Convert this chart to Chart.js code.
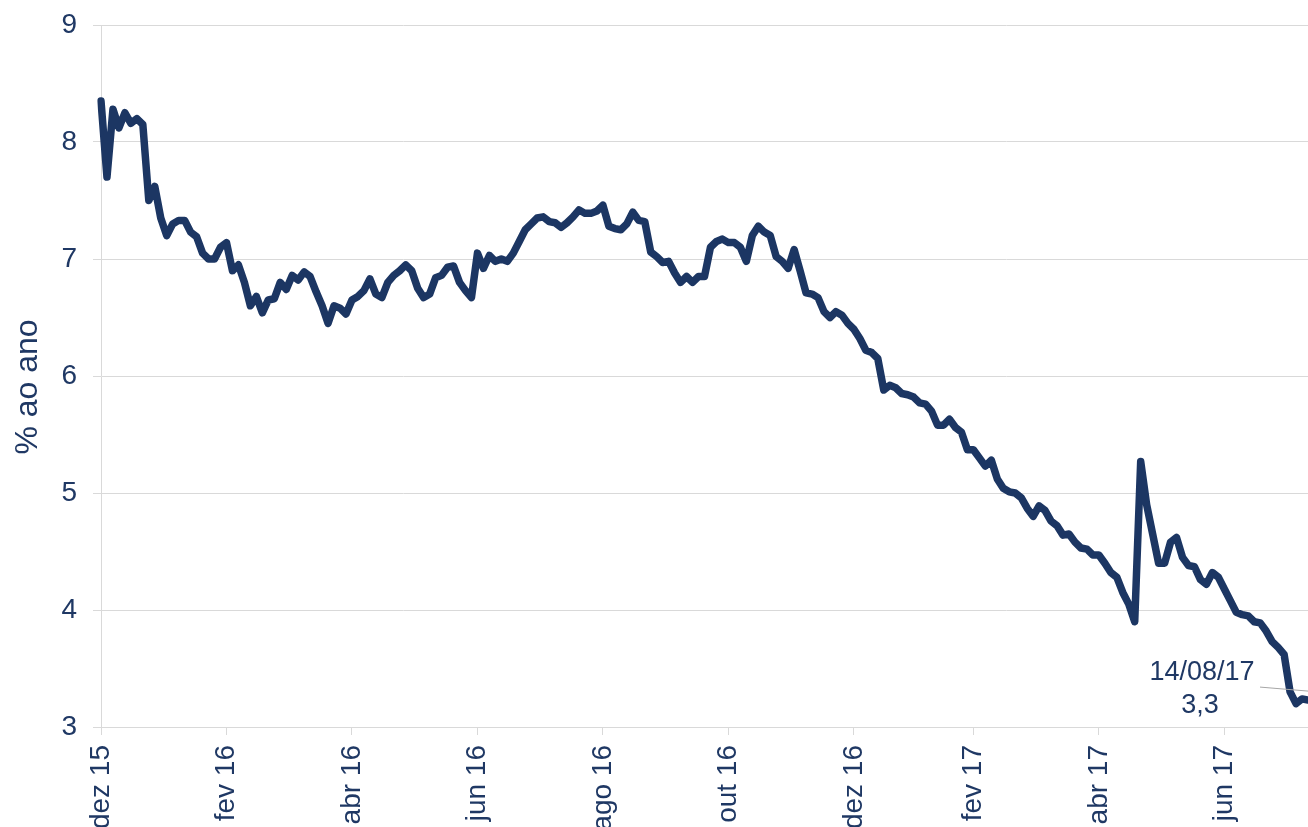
<!DOCTYPE html>
<html lang="pt">
<head>
    <meta charset="UTF-8">
    <title>% ao ano</title>
    <script src="https://cdn.jsdelivr.net/npm/chart.js"></script>
    <style>
        body { margin: 0; background: white; }
        #wrap { width: 1308px; height: 827px; position: relative; }
    </style>
</head>
<body>
<div id="wrap"><canvas id="taxaChart"></canvas></div>
<script>
    // month labels on the x axis and the category index where each one sits
    var monthLabels = ['dez 15', 'fev 16', 'abr 16', 'jun 16', 'ago 16', 'out 16', 'dez 16', 'fev 17', 'abr 17', 'jun 17'];
    var monthIdx = [0, 21, 42, 63, 84, 105, 126, 146, 167, 188];

    // taxa (% ao ano), dez/15 -> 14/08/17
    var taxa = [
        8.35, 7.70, 8.28, 8.12, 8.25, 8.16, 8.20, 8.15, 7.50, 7.62,
        7.35, 7.20, 7.30, 7.33, 7.33, 7.23, 7.19, 7.05, 7.00, 7.00,
        7.10, 7.14, 6.90, 6.95, 6.80, 6.60, 6.68, 6.54, 6.65, 6.66,
        6.80, 6.74, 6.86, 6.82, 6.89, 6.85, 6.72, 6.60, 6.45, 6.60,
        6.58, 6.53, 6.65, 6.68, 6.73, 6.83, 6.70, 6.67, 6.80, 6.86,
        6.90, 6.95, 6.90, 6.75, 6.67, 6.70, 6.84, 6.86, 6.93, 6.94,
        6.80, 6.73, 6.67, 7.05, 6.92, 7.03, 6.98, 7.00, 6.98, 7.05,
        7.15, 7.25, 7.30, 7.35, 7.36, 7.32, 7.31, 7.27, 7.31, 7.36,
        7.42, 7.39, 7.39, 7.41, 7.46, 7.28, 7.26, 7.25, 7.30, 7.40,
        7.33, 7.32, 7.06, 7.02, 6.97, 6.98, 6.88, 6.80, 6.85, 6.80,
        6.85, 6.85, 7.10, 7.15, 7.17, 7.14, 7.14, 7.10, 6.98, 7.20,
        7.28, 7.23, 7.20, 7.02, 6.98, 6.92, 7.08, 6.90, 6.71, 6.70,
        6.67, 6.55, 6.50, 6.55, 6.52, 6.45, 6.40, 6.32, 6.22, 6.20,
        6.15, 5.88, 5.92, 5.90, 5.85, 5.84, 5.82, 5.77, 5.76, 5.70,
        5.58, 5.58, 5.63, 5.56, 5.52, 5.37, 5.37, 5.30, 5.23, 5.28,
        5.12, 5.04, 5.01, 5.00, 4.96, 4.87, 4.80, 4.89, 4.85, 4.76,
        4.72, 4.64, 4.65, 4.58, 4.53, 4.52, 4.47, 4.47, 4.40, 4.32,
        4.28, 4.15, 4.05, 3.90, 5.27, 4.90, 4.65, 4.40, 4.40, 4.58,
        4.62, 4.45, 4.38, 4.37, 4.26, 4.22, 4.32, 4.28, 4.18, 4.08,
        3.98, 3.96, 3.95, 3.90, 3.89, 3.82, 3.73, 3.68, 3.62, 3.30,
        3.20, 3.24, 3.23
    ];

    var lastDate = '14/08/17';
    var lastValue = '3,3';
    var yTitle = '% ao ano';

    var navy = '#1c3663';
    var textColor = '#1f3864';
    var gridColor = '#d9d9d9';
    var fontFamily = '"Liberation Sans", Arial, sans-serif';

    var labels = taxa.map(function (v, i) {
        var j = monthIdx.indexOf(i);
        return j >= 0 ? monthLabels[j] : '';
    });

    // y title + label for the last observation
    var extraText = {
        id: 'extraText',
        afterDatasetsDraw: function (chart) {
            var ctx = chart.ctx;
            var area = chart.chartArea;
            var xs = chart.scales.x, ys = chart.scales.y;
            var n = taxa.length - 1;
            var px = xs.getPixelForValue(n);
            var py = ys.getPixelForValue(taxa[n]);
            ctx.save();
            ctx.strokeStyle = '#a6a6a6';
            ctx.lineWidth = 1;
            ctx.beginPath();
            ctx.moveTo(px - 48, py - 13);
            ctx.lineTo(px, py - 9);
            ctx.stroke();
            ctx.fillStyle = textColor;
            ctx.font = '27px ' + fontFamily;
            ctx.textAlign = 'center';
            ctx.textBaseline = 'middle';
            ctx.fillText(lastDate, px - 106, py - 28);
            ctx.fillText(lastValue, px - 108, py + 5);

            ctx.font = '32px ' + fontFamily;
            ctx.translate(28, (area.top + area.bottom) / 2 + 11);
            ctx.rotate(-Math.PI / 2);
            ctx.fillText(yTitle, 0, 0);
            ctx.restore();
        }
    };

    var ctx = document.getElementById('taxaChart').getContext('2d');
    new Chart(ctx, {
        type: 'line',
        data: {
            labels: labels,
            datasets: [{
                data: taxa,
                borderColor: navy,
                borderWidth: 7.5,
                pointRadius: 0,
                tension: 0,
                fill: false,
                borderJoinStyle: 'round',
                borderCapStyle: 'round'
            }]
        },
        options: {
            responsive: true,
            maintainAspectRatio: false,
            animation: false,
            layout: { padding: { top: 25, right: 0, left: 0, bottom: 0 } },
            plugins: {
                legend: { display: false },
                tooltip: { enabled: false }
            },
            scales: {
                x: {
                    type: 'category',
                    offset: false,
                    afterFit: function (scale) {
                        scale.height = 100;
                        scale.paddingLeft = 0;
                        scale.paddingRight = 0;
                    },
                    border: { color: gridColor },
                    grid: {
                        drawOnChartArea: false,
                        tickLength: 8,
                        color: function (c) {
                            return c.tick && c.tick.label ? gridColor : 'rgba(0,0,0,0)';
                        }
                    },
                    ticks: {
                        autoSkip: false,
                        maxRotation: 90,
                        minRotation: 90,
                        padding: 10,
                        color: textColor,
                        font: { family: fontFamily, size: 28 }
                    }
                },
                y: {
                    min: 3,
                    max: 9,
                    afterFit: function (scale) {
                        scale.width = 101;
                        scale.paddingTop = 0;
                        scale.paddingBottom = 0;
                    },
                    border: { color: gridColor },
                    grid: { color: gridColor, tickLength: 8 },
                    ticks: {
                        stepSize: 1,
                        padding: 16,
                        color: textColor,
                        font: { family: fontFamily, size: 28 }
                    }
                }
            }
        },
        plugins: [extraText]
    });
</script>
</body>
</html>
